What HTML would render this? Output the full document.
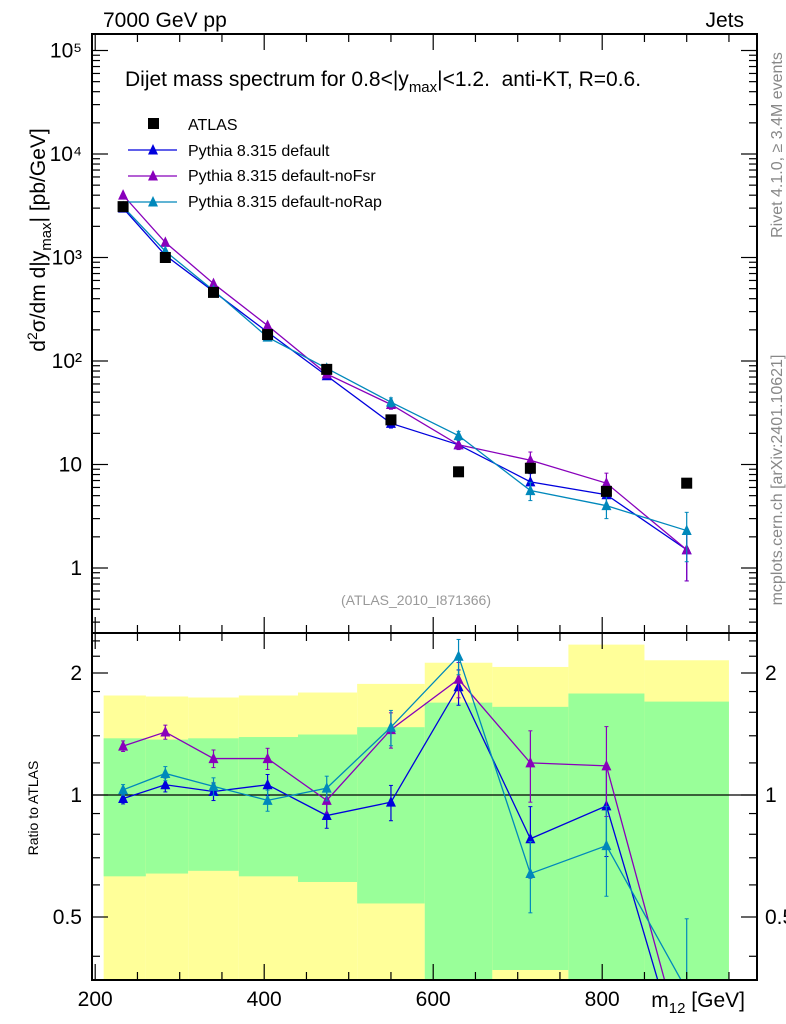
<!DOCTYPE html>
<html><head><meta charset="utf-8"><style>
html,body{margin:0;padding:0;background:#fff;width:786px;height:1024px;overflow:hidden;}
svg{display:block;}
svg text{font-family:"Liberation Sans",sans-serif;}
</style></head><body>
<svg id="c" width="786" height="1024" viewBox="0 0 786 1024" style="position:absolute;left:0;top:0" xmlns="http://www.w3.org/2000/svg"></svg>
<script>
const xCenters=[233,283,340,404,474,550,630,715,805,900];
const binEdges=[210,260,310,370,440,510,590,670,760,850,950];
const atlas=[3100,1000,460,180,83,27,8.5,9.2,5.5,6.6];
const pyDefault=[3000,1050,470,190,72,25,15.5,6.8,5.1,1.5];
const pyNoFsr=[4000,1400,560,220,75,38,15.5,11,6.6,1.5];
const pyNoRap=[3100,1150,480,170,85,40,19,5.6,4.0,2.3];
const rDefault=[0.98,1.06,1.02,1.06,0.89,0.96,1.85,0.78,0.94,0.2];
const rNoFsr=[1.32,1.43,1.23,1.23,0.97,1.45,1.93,1.2,1.18,0.22];
const rNoRap=[1.03,1.13,1.05,0.97,1.04,1.47,2.2,0.64,0.75,0.33];
const yellowHi=[1.76,1.75,1.74,1.76,1.79,1.88,2.12,2.07,2.35,2.15];
const greenHi=[1.38,1.37,1.38,1.39,1.41,1.47,1.69,1.65,1.78,1.70];
const greenLo=[0.63,0.64,0.65,0.63,0.61,0.54,0.2,0.37,0.2,0.2];
const relErr=[0.03,0.04,0.05,0.06,0.07,0.1,0.1,0.2,0.25,0.5];
const xTicks=[200,400,600,800];
const yTicks=[1,10,100,1000,10000,100000];
const yTickLabels=["1","10","10²","10³","10⁴","10⁵"];
const rTicks=[0.5,1,2];

const svg=document.getElementById('c');
const NS='http://www.w3.org/2000/svg';
const L=92,R=757,T1=34,B1=633,T2=633,B2=980;
const X=v=>95.2+(v-200)*0.845;
const Y=v=>568-103.5*Math.log10(v);
const RY=v=>795-122*Math.log2(v);
function el(tag,a,parent){const e=document.createElementNS(NS,tag);for(const k in a)e.setAttribute(k,a[k]);(parent||svg).appendChild(e);return e;}
function txt(s,a,parent){const e=el('text',a,parent);e.textContent=s;return e;}

const defs=el('defs',{});
const cp1=el('clipPath',{id:'cp1'},defs);el('rect',{x:L,y:T1,width:R-L,height:B1-T1},cp1);
const cp2=el('clipPath',{id:'cp2'},defs);el('rect',{x:L,y:T2,width:R-L,height:B2-T2},cp2);

const bands=el('g',{'clip-path':'url(#cp2)'});


for(let i=0;i<xCenters.length;i++){
  const x0=X(binEdges[i]),x1=X(binEdges[i+1]);
  const y=el('rect',{x:x0,y:RY(yellowHi[i]),width:x1-x0,height:B2-RY(yellowHi[i]),fill:'#ffff99'},bands);
  
  
  const g=el('rect',{x:x0,y:RY(greenHi[i]),width:x1-x0,height:RY(greenLo[i])-RY(greenHi[i]),fill:'#99ff99'},bands);
  
  
}
el('line',{x1:L,x2:R,y1:RY(1),y2:RY(1),stroke:'#000','stroke-width':1.2});

function tri(g,x,y,c){el('path',{d:`M${x-5},${y+4.5}L${x+5},${y+4.5}L${x},${y-6}Z`,fill:c},g);}
function series(vals,mapY,clip,c,name){
  const g=el('g',{'clip-path':`url(#${clip})`});
  
  
  const pts=xCenters.map((x,i)=>X(x)+','+mapY(vals[i])).join(' ');
  el('polyline',{points:pts,fill:'none',stroke:c,'stroke-width':1.3},g);
  xCenters.forEach((x,i)=>{
    const v=vals[i],e=relErr[i];
    const ya=mapY(v*(1+e)),yb=mapY(Math.max(v*(1-e),1e-3));
    if(yb-ya>6){el('line',{x1:X(x),x2:X(x),y1:ya,y2:yb,stroke:c,'stroke-width':1.2},g);
      el('line',{x1:X(x)-2,x2:X(x)+2,y1:ya,y2:ya,stroke:c},g);el('line',{x1:X(x)-2,x2:X(x)+2,y1:yb,y2:yb,stroke:c},g);}
    tri(g,X(x),mapY(v),c);
  });
}
const cB='#0000dd',cP='#8800bb',cT='#0088bb';
series(pyDefault,Y,'cp1',cB,'series-default');
series(pyNoFsr,Y,'cp1',cP,'series-nofsr');
series(pyNoRap,Y,'cp1',cT,'series-norap');
const ag=el('g',{});


xCenters.forEach((x,i)=>el('rect',{x:X(x)-5.5,y:Y(atlas[i])-5.5,width:11,height:11,fill:'#000'},ag));
series(rDefault,RY,'cp2',cB,'ratio-default');
series(rNoFsr,RY,'cp2',cP,'ratio-nofsr');
series(rNoRap,RY,'cp2',cT,'ratio-norap');

el('rect',{x:L,y:T1,width:R-L,height:B1-T1,fill:'none',stroke:'#000','stroke-width':2});
el('rect',{x:L,y:T2,width:R-L,height:B2-T2,fill:'none',stroke:'#000','stroke-width':2});
for(let v=200;v<=950;v+=50){
  const big=v%200===0,len=big?16:8;
  [T1,T2].forEach(t=>el('line',{x1:X(v),x2:X(v),y1:t,y2:t+len,stroke:'#000','stroke-width':1.2}));
  [B1,B2].forEach(b=>el('line',{x1:X(v),x2:X(v),y1:b,y2:b-len,stroke:'#000','stroke-width':1.2}));
}
xTicks.forEach(v=>{const t=txt(String(v),{x:X(v),y:1006,'font-size':21,'text-anchor':'middle'});});
for(let d=-1;d<5;d++)for(let m=1;m<10;m++){
  const v=m*Math.pow(10,d),y=Y(v);if(y<T1||y>B1)continue;const len=m===1?16:8;
  el('line',{x1:L,x2:L+len,y1:y,y2:y,stroke:'#000','stroke-width':1.2});
  el('line',{x1:R,x2:R-len,y1:y,y2:y,stroke:'#000','stroke-width':1.2});
}
el('line',{x1:L,x2:L+16,y1:Y(100000),y2:Y(100000),stroke:'#000','stroke-width':1.2});
el('line',{x1:R,x2:R-16,y1:Y(100000),y2:Y(100000),stroke:'#000','stroke-width':1.2});
yTicks.forEach((v,i)=>{const t=txt(yTickLabels[i],{x:82,y:Y(v)+7,'font-size':21,'text-anchor':'end'});});
[0.4,0.5,0.6,0.7,0.8,0.9,1,1.2,1.4,1.6,1.8,2,2.2,2.4].forEach(v=>{
  const y=RY(v),len=(v===0.5||v===1||v===2)?16:8;
  el('line',{x1:L,x2:L+len,y1:y,y2:y,stroke:'#000','stroke-width':1.2});
  el('line',{x1:R,x2:R-len,y1:y,y2:y,stroke:'#000','stroke-width':1.2});
});
rTicks.forEach(v=>{
  const a=txt(String(v),{x:82,y:RY(v)+7,'font-size':21,'text-anchor':'end'});
  const b=txt(String(v),{x:765,y:RY(v)+7,'font-size':21});
});
</script>
<svg width="786" height="1024" style="position:absolute;left:0;top:0" xmlns="http://www.w3.org/2000/svg">
<text x="103" y="27" font-size="21" font-family="Liberation Sans">7000 GeV pp</text>
<text x="744" y="27" font-size="21" text-anchor="end" font-family="Liberation Sans">Jets</text>
<text x="125" y="86" font-size="21" font-family="Liberation Sans">Dijet mass spectrum for 0.8&lt;|y<tspan font-size="15" dy="6">max</tspan><tspan dy="-6" xml:space="preserve">|&lt;1.2.  anti-KT, R=0.6.</tspan></text>
<g font-family="Liberation Sans" font-size="16">
<rect x="148" y="118" width="11" height="11" fill="#000"/><text x="188" y="130">ATLAS</text>
<line x1="128" x2="177" y1="150" y2="150" stroke="#0000dd" stroke-width="1.3"/><path d="M148,154.5L158,154.5L153,144Z" fill="#0000dd"/><text x="188" y="156">Pythia 8.315 default</text>
<line x1="128" x2="177" y1="176" y2="176" stroke="#8800bb" stroke-width="1.3"/><path d="M148,180.5L158,180.5L153,170Z" fill="#8800bb"/><text x="188" y="181">Pythia 8.315 default-noFsr</text>
<line x1="128" x2="177" y1="202" y2="202" stroke="#0088bb" stroke-width="1.3"/><path d="M148,206.5L158,206.5L153,196Z" fill="#0088bb"/><text x="188" y="207">Pythia 8.315 default-noRap</text>
</g>
<text x="416" y="605" font-size="14" fill="#999" text-anchor="middle" font-family="Liberation Sans">(ATLAS_2010_I871366)</text>
<text transform="translate(45,240) rotate(-90)" font-size="21" text-anchor="middle" font-family="Liberation Sans">d<tspan font-size="14" dy="-8">2</tspan><tspan dy="8">σ/dm d|y</tspan><tspan font-size="15" dy="6">max</tspan><tspan dy="-6">| [pb/GeV]</tspan></text>
<text transform="translate(38,808) rotate(-90)" font-size="14" text-anchor="middle" font-family="Liberation Sans">Ratio to ATLAS</text>
<text x="745" y="1007" font-size="21" text-anchor="end" font-family="Liberation Sans">m<tspan font-size="15" dy="6">12</tspan><tspan dy="-6"> [GeV]</tspan></text>
<text transform="translate(782,145) rotate(-90)" font-size="16" fill="#888" text-anchor="middle" font-family="Liberation Sans">Rivet 4.1.0, ≥ 3.4M events</text>
<text transform="translate(782,480) rotate(-90)" font-size="16" fill="#888" text-anchor="middle" font-family="Liberation Sans">mcplots.cern.ch [arXiv:2401.10621]</text>
</svg>
</body></html>
